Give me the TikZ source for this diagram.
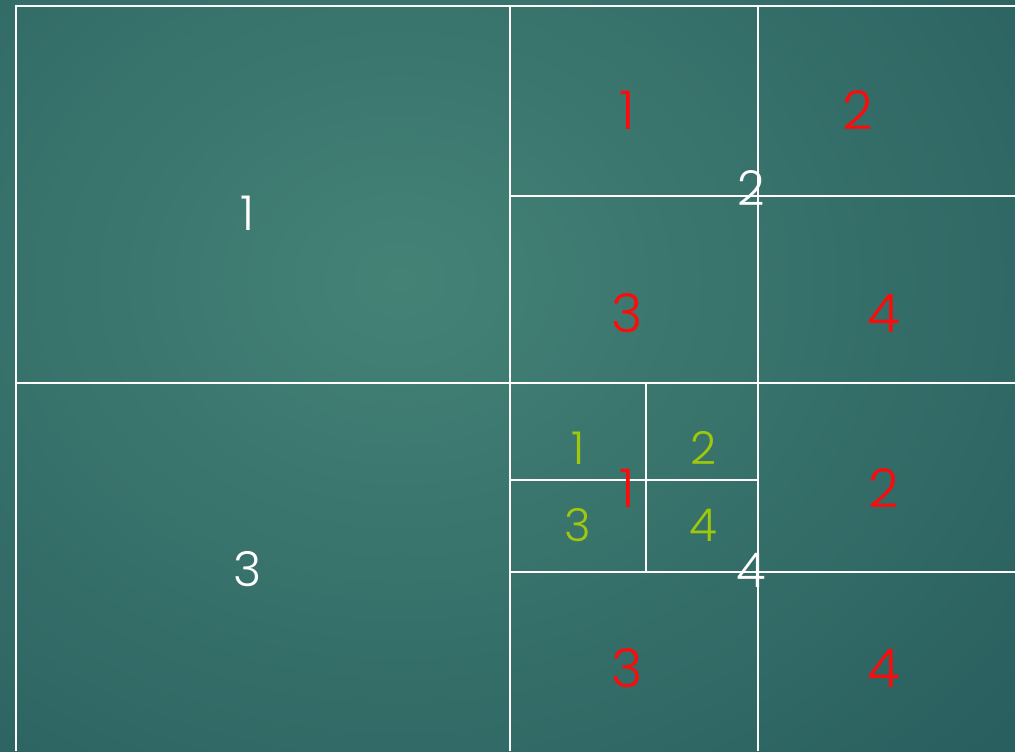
\documentclass[tikz,border=0pt]{standalone}
\usepackage{fontspec}
\setmainfont{Poppins}[UprightFont=* Light]
\definecolor{bgin}{RGB}{68,130,118}
\definecolor{bgout}{RGB}{40,94,94}
\definecolor{redd}{RGB}{255,10,10}
\definecolor{lime}{RGB}{160,200,10}
\begin{document}
\begin{tikzpicture}[x=0.75pt,y=-0.75pt,
  grid/.style={draw=white,line width=1.5pt},
  wlab/.style={text=white,font=\fontsize{36}{36}\selectfont,inner sep=0pt},
  rlab/.style={text=redd,font=\fontsize{40}{40}\selectfont,inner sep=0pt},
  glab/.style={text=lime,font=\fontsize{34}{34}\selectfont,inner sep=0pt}]
\useasboundingbox (0,0) rectangle (1015,751);
\begin{scope}
\clip (0,0) rectangle (1015,751);
\shade[inner color=bgin,outer color=bgout] (-450,-420) rectangle (1250,980);
\end{scope}
% grid
\draw[grid] (1015,6) -- (15.5,6) -- (15.5,751);
\draw[grid] (510,6) -- (510,751);
\draw[grid] (758,6) -- (758,751);
\draw[grid] (15.5,383) -- (1015,383);
\draw[grid] (510,196) -- (1015,196);
\draw[grid] (510,572) -- (1015,572);
\draw[grid] (646,383) -- (646,572);
\draw[grid] (510,480) -- (758,480);
% white labels
\node[wlab] (w1) at (248,213) {1};
\node[wlab] (w3) at (248,569) {3};
\node[wlab] (w2) at (751,188) {2};
\node[wlab] (w4) at (751,570) {4};
% red labels
\node[rlab] (r1) at (627,110) {1};
\node[rlab] (r2) at (858,110) {2};
\node[rlab] (r3) at (627,313) {3};
\node[rlab] (r4) at (884,313) {4};
\node[rlab] (s1) at (627,488) {1};
\node[rlab] (s2) at (884,488) {2};
\node[rlab] (s3) at (627,668) {3};
\node[rlab] (s4) at (884,668) {4};
% green labels
\node[glab] (g1) at (578,448) {1};
\node[glab] (g2) at (703,448) {2};
\node[glab] (g3) at (578,525) {3};
\node[glab] (g4) at (703,525) {4};
\end{tikzpicture}
\end{document}
